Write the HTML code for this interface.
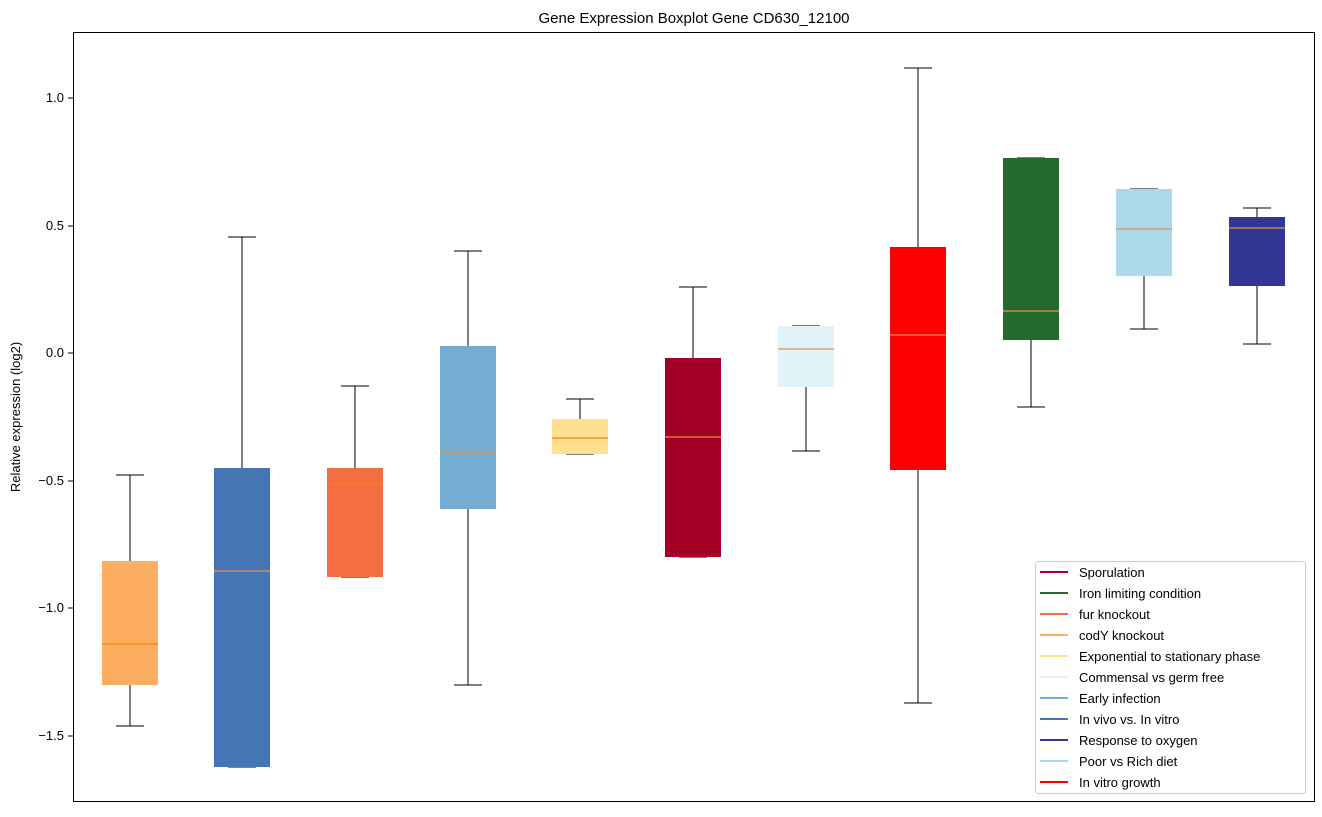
<!DOCTYPE html>
<html><head><meta charset="utf-8"><style>body{margin:0;background:#fff}</style></head><body>
<svg width="1322" height="812" xmlns="http://www.w3.org/2000/svg" font-family="Liberation Sans, DejaVu Sans, sans-serif">
<rect width="1322" height="812" fill="#fff"/>
<text x="694" y="23" font-size="15" text-anchor="middle">Gene Expression Boxplot Gene CD630_12100</text>
<text transform="translate(20,417) rotate(-90)" font-size="13" text-anchor="middle">Relative expression (log2)</text>
<g font-size="13" text-anchor="end">
<line x1="68" x2="73" y1="98" y2="98" stroke="#000"/><text x="64" y="102">1.0</text>
<line x1="68" x2="73" y1="226" y2="226" stroke="#000"/><text x="64" y="230">0.5</text>
<line x1="68" x2="73" y1="353" y2="353" stroke="#000"/><text x="64" y="357">0.0</text>
<line x1="68" x2="73" y1="481" y2="481" stroke="#000"/><text x="64" y="485">−0.5</text>
<line x1="68" x2="73" y1="608" y2="608" stroke="#000"/><text x="64" y="612">−1.0</text>
<line x1="68" x2="73" y1="736" y2="736" stroke="#000"/><text x="64" y="740">−1.5</text>
</g>
<g stroke="#000" stroke-width="1">
<line x1="130" x2="130" y1="475" y2="561"/><line x1="130" x2="130" y1="685" y2="726"/><line x1="116" x2="144" y1="475" y2="475"/><line x1="116" x2="144" y1="726" y2="726"/>
<line x1="242" x2="242" y1="237" y2="468"/><line x1="228" x2="256" y1="237" y2="237"/><line x1="228" x2="256" y1="767" y2="767"/>
<line x1="355" x2="355" y1="386" y2="468"/><line x1="341" x2="369" y1="386" y2="386"/><line x1="341" x2="369" y1="577" y2="577"/>
<line x1="468" x2="468" y1="251" y2="346"/><line x1="468" x2="468" y1="509" y2="685"/><line x1="454" x2="482" y1="251" y2="251"/><line x1="454" x2="482" y1="685" y2="685"/>
<line x1="580" x2="580" y1="399" y2="419"/><line x1="566" x2="594" y1="399" y2="399"/><line x1="566" x2="594" y1="454" y2="454"/>
<line x1="693" x2="693" y1="287" y2="358"/><line x1="679" x2="707" y1="287" y2="287"/><line x1="679" x2="707" y1="557" y2="557"/>
<line x1="806" x2="806" y1="387" y2="451"/><line x1="792" x2="820" y1="326" y2="326"/><line x1="792" x2="820" y1="451" y2="451"/>
<line x1="918" x2="918" y1="68" y2="247"/><line x1="918" x2="918" y1="470" y2="703"/><line x1="904" x2="932" y1="68" y2="68"/><line x1="904" x2="932" y1="703" y2="703"/>
<line x1="1031" x2="1031" y1="340" y2="407"/><line x1="1017" x2="1045" y1="158" y2="158"/><line x1="1017" x2="1045" y1="407" y2="407"/>
<line x1="1144" x2="1144" y1="276" y2="329"/><line x1="1130" x2="1158" y1="189" y2="189"/><line x1="1130" x2="1158" y1="329" y2="329"/>
<line x1="1257" x2="1257" y1="208" y2="217"/><line x1="1257" x2="1257" y1="286" y2="344"/><line x1="1243" x2="1271" y1="208" y2="208"/><line x1="1243" x2="1271" y1="344" y2="344"/>
</g>
<g>
<rect x="102" y="561" width="56" height="124" fill="#fdae61"/>
<rect x="214" y="468" width="56" height="299" fill="#4575b4"/>
<rect x="327" y="468" width="56" height="109" fill="#f46d43"/>
<rect x="440" y="346" width="56" height="163" fill="#74add1"/>
<rect x="552" y="419" width="56" height="35" fill="#fee090"/>
<rect x="665" y="358" width="56" height="199" fill="#a50026"/>
<rect x="778" y="326" width="56" height="61" fill="#e0f3f8"/>
<rect x="890" y="247" width="56" height="223" fill="#ff0000"/>
<rect x="1003" y="158" width="56" height="182" fill="#226b2c"/>
<rect x="1116" y="189" width="56" height="87" fill="#abd9e9"/>
<rect x="1229" y="217" width="56" height="69" fill="#313695"/>
</g>
<g stroke="#e8924a" stroke-width="1.2">
<line x1="102" x2="158" y1="644" y2="644" stroke="#ff7f0e"/>
<line x1="214" x2="270" y1="571" y2="571"/>
<line x1="327" x2="383" y1="484" y2="484" stroke="#ff7f0e"/>
<line x1="440" x2="496" y1="453" y2="453"/>
<line x1="552" x2="608" y1="438" y2="438" stroke="#ff7f0e"/>
<line x1="665" x2="721" y1="437" y2="437"/>
<line x1="778" x2="834" y1="349" y2="349"/>
<line x1="890" x2="946" y1="335" y2="335"/>
<line x1="1003" x2="1059" y1="311" y2="311"/>
<line x1="1116" x2="1172" y1="229" y2="229"/>
<line x1="1229" x2="1285" y1="228" y2="228"/>
</g>
<rect x="73.5" y="32.5" width="1241" height="769" fill="none" stroke="#000"/>
<rect x="1035.5" y="561.5" width="270" height="232" rx="3" fill="#fff" fill-opacity="0.85" stroke="#ccc"/>
<g font-size="13" stroke-width="2">
<line x1="1040" x2="1068" y1="572" y2="572" stroke="#a50026"/><text x="1079" y="577">Sporulation</text>
<line x1="1040" x2="1068" y1="593" y2="593" stroke="#226b2c"/><text x="1079" y="598">Iron limiting condition</text>
<line x1="1040" x2="1068" y1="614" y2="614" stroke="#f46d43"/><text x="1079" y="619">fur knockout</text>
<line x1="1040" x2="1068" y1="635" y2="635" stroke="#fdae61"/><text x="1079" y="640">codY knockout</text>
<line x1="1040" x2="1068" y1="656" y2="656" stroke="#fee090"/><text x="1079" y="661">Exponential to stationary phase</text>
<line x1="1040" x2="1068" y1="677" y2="677" stroke="#e0f3f8"/><text x="1079" y="682">Commensal vs germ free</text>
<line x1="1040" x2="1068" y1="698" y2="698" stroke="#74add1"/><text x="1079" y="703">Early infection</text>
<line x1="1040" x2="1068" y1="719" y2="719" stroke="#4575b4"/><text x="1079" y="724">In vivo vs. In vitro</text>
<line x1="1040" x2="1068" y1="740" y2="740" stroke="#313695"/><text x="1079" y="745">Response to oxygen</text>
<line x1="1040" x2="1068" y1="761" y2="761" stroke="#abd9e9"/><text x="1079" y="766">Poor vs Rich diet</text>
<line x1="1040" x2="1068" y1="782" y2="782" stroke="#ff0000"/><text x="1079" y="787">In vitro growth</text>
</g>
</svg>
</body></html>
